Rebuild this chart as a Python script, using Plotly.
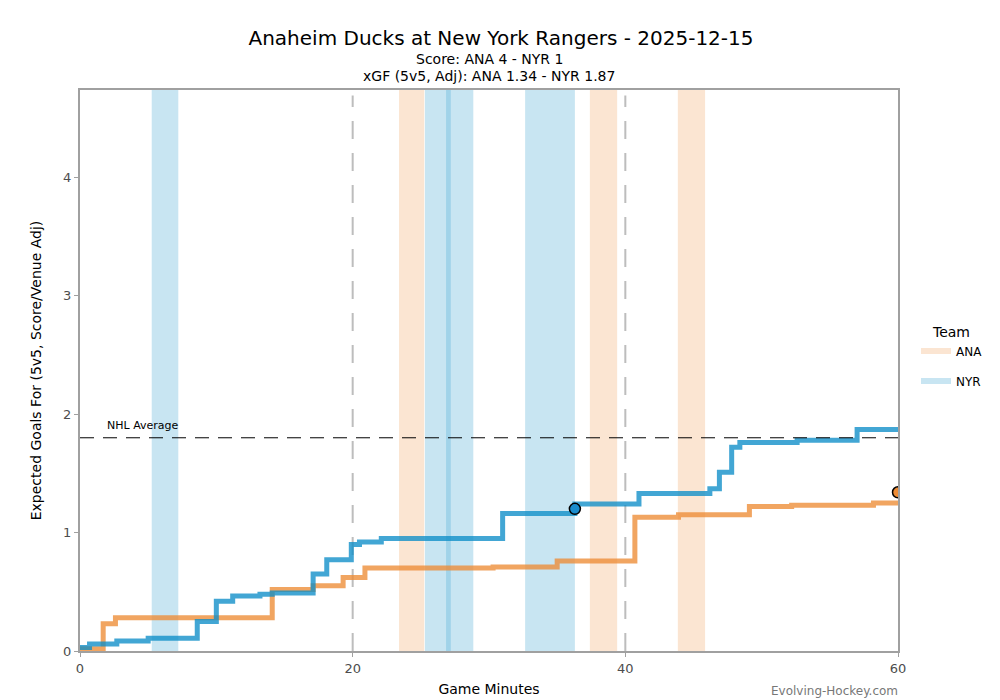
import plotly.graph_objects as go

# cumulative 5v5 xGF step data (game minutes, xG)
ana_min = [0, 1.7, 2.6, 14.1, 17.1, 19.3, 20.9, 30.3, 35.0, 40.7, 43.9, 49.1, 52.2, 58.2, 60]
ana_xg = [0.02, 0.23, 0.28, 0.52, 0.55, 0.62, 0.70, 0.71, 0.76, 1.13, 1.15, 1.22, 1.23, 1.25, 1.25]

nyr_min = [0, 0.7, 2.7, 5.0, 8.6, 10.0, 11.2, 13.2, 14.1, 17.1, 18.1, 19.9, 20.5, 22.1,
           31.0, 36.3, 41.0, 46.2, 46.9, 47.8, 48.4, 52.6, 57.0, 60]
nyr_xg = [0.03, 0.06, 0.085, 0.107, 0.25, 0.42, 0.465, 0.48, 0.49, 0.65, 0.77, 0.90, 0.92, 0.95,
          1.16, 1.24, 1.33, 1.37, 1.51, 1.72, 1.76, 1.78, 1.87, 1.87]

# 5v5 goals
ana_goal_min = [60]
ana_goal_xg = [1.34]
nyr_goal_min = [36.3]
nyr_goal_xg = [1.20]

# power play windows
ana_pp_start = [23.4, 37.4, 43.85]
ana_pp_end = [25.25, 39.4, 45.85]
nyr_pp_start = [5.26, 25.3, 26.85, 32.65]
nyr_pp_end = [7.21, 28.85, 27.2, 36.3]

nhl_avg = 1.80
period_breaks = [20, 40]

ana_col = "#EE8C36"
nyr_col = "#0E8EC8"
font = "Verdana, DejaVu Sans, sans-serif"

fig = go.Figure()

shapes = []
for s, e in zip(ana_pp_start, ana_pp_end):
    shapes.append(dict(type="rect", xref="x", yref="paper", x0=s, x1=e, y0=0, y1=1,
                       fillcolor="#F0A05A", opacity=0.27, line_width=0, layer="below"))
for s, e in zip(nyr_pp_start, nyr_pp_end):
    shapes.append(dict(type="rect", xref="x", yref="paper", x0=s, x1=e, y0=0, y1=1,
                       fillcolor="#4AAAD5", opacity=0.3, line_width=0, layer="below"))
for p in period_breaks:
    shapes.append(dict(type="line", xref="x", yref="paper", x0=p, x1=p, y0=0, y1=0.99,
                       line=dict(color="#BDBDBD", width=2, dash="18px,14px"), layer="below"))
shapes.append(dict(type="line", xref="paper", yref="y", x0=0, x1=1, y0=nhl_avg, y1=nhl_avg,
                   line=dict(color="black", width=1, dash="14px,9px")))

fig.add_trace(go.Scatter(x=ana_min, y=ana_xg, mode="lines", line_shape="hv",
                         line=dict(color=ana_col, width=5), opacity=0.78, showlegend=False))
fig.add_trace(go.Scatter(x=nyr_min, y=nyr_xg, mode="lines", line_shape="hv",
                         line=dict(color=nyr_col, width=5), opacity=0.78, showlegend=False))
fig.add_trace(go.Scatter(x=ana_goal_min, y=ana_goal_xg, mode="markers",
                         marker=dict(color="#EE8C36", size=11, line=dict(color="black", width=1.5)),
                         showlegend=False))
fig.add_trace(go.Scatter(x=nyr_goal_min, y=nyr_goal_xg, mode="markers",
                         marker=dict(color="#1A8CCD", size=11, line=dict(color="black", width=1.5)),
                         showlegend=False))

# legend entries
fig.add_trace(go.Scatter(x=[None], y=[None], mode="lines", name="ANA", legendgroup="a",
                         line=dict(color="rgba(240,160,90,0.27)", width=6)))
fig.add_trace(go.Scatter(x=[None], y=[None], mode="lines", name="NYR", legendgroup="n",
                         line=dict(color="rgba(74,170,213,0.3)", width=6)))

fig.update_layout(
    width=1000, height=700,
    margin=dict(l=72, r=110, t=82, b=57),
    plot_bgcolor="white", paper_bgcolor="white",
    font=dict(family=font, color="#333"),
    title=dict(text="Anaheim Ducks at New York Rangers - 2025-12-15", x=0.493, xanchor="center",
               xref="container", y=1 - 30 / 700, yanchor="middle", font=dict(size=20, color="black")),
    shapes=shapes,
    legend=dict(title=dict(text="Team", font=dict(size=14, color="black"), side="top center"),
                x=1.022, xanchor="left", y=0.593, yanchor="top", tracegroupgap=11,
                font=dict(size=12, color="black")),
    xaxis=dict(range=[0, 60], tickvals=[0, 20, 40, 60], showgrid=False, zeroline=False,
               showline=True, mirror=True, linecolor="#A0A0A0", linewidth=2,
               ticks="outside", ticklen=4, tickcolor="#A0A0A0",
               tickfont=dict(size=13, color="#4D4D4D"),
               title=dict(text="Game Minutes", font=dict(size=14, color="black"), standoff=10)),
    yaxis=dict(range=[0, 4.736], tickvals=[0, 1, 2, 3, 4], showgrid=False, zeroline=False,
               showline=True, mirror=True, linecolor="#A0A0A0", linewidth=2,
               ticks="outside", ticklen=4, tickcolor="#A0A0A0",
               tickfont=dict(size=13, color="#4D4D4D"),
               title=dict(text="Expected Goals For (5v5, Score/Venue Adj)",
                          font=dict(size=14, color="black"), standoff=18)),
    annotations=[
        dict(text="Score: ANA 4 - NYR 1", xref="paper", yref="paper", x=0.5, y=1 + 31 / 560,
             xanchor="center", yanchor="middle", showarrow=False, font=dict(size=14, color="black")),
        dict(text="xGF (5v5, Adj): ANA 1.34 - NYR 1.87", xref="paper", yref="paper", x=0.5,
             y=1 + 14 / 560, xanchor="center", yanchor="middle", showarrow=False,
             font=dict(size=14, color="black")),
        dict(text="NHL Average", xref="x", yref="y", x=1.8, y=nhl_avg, xanchor="left",
             yanchor="bottom", yshift=4, showarrow=False, font=dict(size=11, color="black")),
        dict(text="Evolving-Hockey.com", xref="paper", yref="paper", x=1.002, y=-40 / 560,
             xanchor="right", yanchor="middle", showarrow=False, font=dict(size=12, color="#777")),
    ],
)

fig.write_html("out.html")
